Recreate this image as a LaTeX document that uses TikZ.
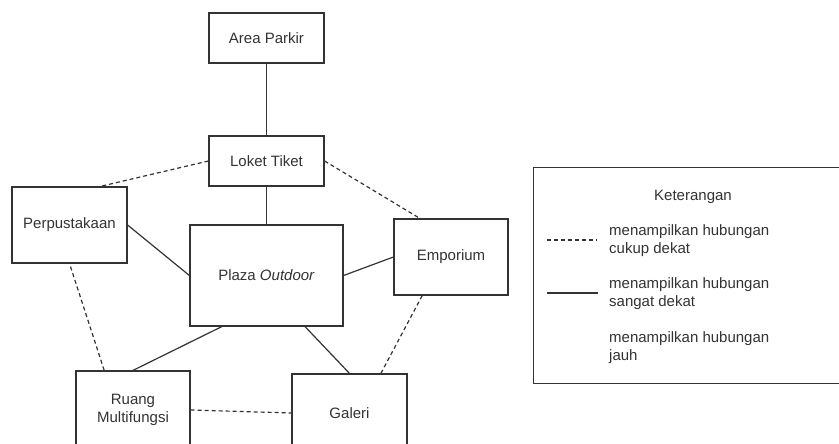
\documentclass[tikz,border=0pt]{standalone}
\usepackage{fontspec}
\setmainfont{Liberation Sans}
\usetikzlibrary{calc}
\definecolor{stroke}{HTML}{333333}
\tikzset{
  room/.style={draw=stroke, line width=1.2pt, fill=white, align=center,
    inner sep=0pt, font=\fontsize{15}{18}\selectfont, text=black!80},
  near/.style={draw=stroke, line width=1.2pt},
  fairly/.style={draw=stroke, line width=1.2pt, dash pattern=on 4pt off 3pt},
  legendtext/.style={anchor=west, align=left, inner sep=0pt,
    font=\fontsize{15}{18}\selectfont, text=black!80}
}
\begin{document}
\begin{tikzpicture}[x=1pt, y=-1pt]
\useasboundingbox (0,0) rectangle (839,444);
\clip (0,0) rectangle (839,444);

% rooms
\node[room, minimum width=115pt, minimum height=50pt] (parkir) at (266.5,38) {Area Parkir};
\node[room, minimum width=115pt, minimum height=50pt] (loket) at (266.5,161) {Loket Tiket};
\node[room, minimum width=115pt, minimum height=76pt] (perpus) at (69.5,225) {Perpustakaan};
\node[room, minimum width=153pt, minimum height=101pt] (plaza) at (266.5,275.5) {Plaza \textit{Outdoor}};
\node[room, minimum width=114pt, minimum height=76pt] (emporium) at (451,257) {Emporium};
\node[room, minimum width=114pt, minimum height=78pt] (ruang) at (133,410) {Ruang\\Multifungsi};
\node[room, minimum width=115pt, minimum height=78pt] (galeri) at (349.5,413) {Galeri};

% very close relations
\draw[near] (parkir.south) -- (loket.north);
\draw[near] (loket.south) -- (plaza.north);
\draw[near] (perpus.east) -- (plaza.west);
\draw[near] (plaza.east) -- (emporium.west);
\draw[near] ($(plaza.south west)!0.21!(plaza.south east)$) -- (ruang.north);
\draw[near] ($(plaza.south west)!0.75!(plaza.south east)$) -- (galeri.north);

% fairly close relations
\draw[fairly] (loket.west) -- ($(perpus.north west)!0.765!(perpus.north east)$);
\draw[fairly] (loket.east) -- ($(emporium.north west)!0.23!(emporium.north east)$);
\draw[fairly] ($(perpus.south)+(1,3)$) -- ($(ruang.north west)!0.25!(ruang.north east)$);
\draw[fairly] ($(emporium.south west)!0.25!(emporium.south east)$) -- ($(galeri.north west)!0.77!(galeri.north east)$);
\draw[fairly] (ruang.east) -- (galeri.west);

% legend
\node[draw=stroke, line width=1.2pt, minimum width=320pt, minimum height=216pt,
  inner sep=0pt, anchor=north west] (legend) at (533,167) {};
\node[font=\fontsize{15}{18}\selectfont, text=black!80, inner sep=0pt] (ket) at (693,197) {Keterangan};
\coordinate (d1) at (547,240);
\coordinate (d2) at (597,240);
\draw[fairly] (d1) -- (d2);
\node[legendtext] (t1) at (609,241) {menampilkan hubungan\\cukup dekat};
\coordinate (s1) at (547,293);
\coordinate (s2) at (598,293);
\draw[near] (s1) -- (s2);
\node[legendtext] (t2) at (609,293.5) {menampilkan hubungan\\sangat dekat};
\node[legendtext] (t3) at (609,348) {menampilkan hubungan\\jauh};
\end{tikzpicture}
\end{document}
